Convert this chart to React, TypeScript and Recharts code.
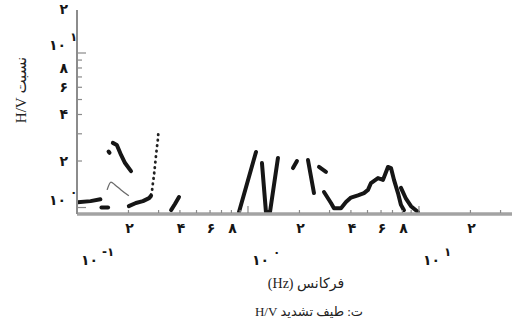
import React from 'react';
import { LineChart, Line, XAxis, YAxis } from 'recharts';

type Pt = { f: number; hv: number };

// Frequency axis (Hz, log) and H/V ratio axis (log)
const freqTicks = [0.1, 0.2, 0.3, 0.4, 0.5, 0.6, 0.7, 0.8, 0.9, 1, 2, 3, 4, 5, 6, 7, 8, 9, 10, 20, 30];
const freqDigitLabels: Record<string, string> = {
  '0.2': '۲', '0.4': '۴', '0.6': '۶', '0.8': '۸',
  '2': '۲', '4': '۴', '6': '۶', '8': '۸', '20': '۲',
};
const freqDecadeExp: Record<string, string> = { '0.1': '-۱', '1': '۰', '10': '۱' };

const ratioTicks = [1, 2, 3, 4, 5, 6, 7, 8, 9, 10, 20];
const ratioDigitLabels: Record<string, string> = { '2': '۲', '4': '۴', '6': '۶', '8': '۸', '20': '۲' };
const ratioDecadeExp: Record<string, string> = { '1': '۰', '10': '۱' };

const freqDomain: [number, number] = [0.1, 35];
const ratioDomain: [number, number] = [0.908, 18.98];

// Main H/V curve, split where the record has gaps
const lowBase: Pt[] = [{ f: 0.101, hv: 1.08 }, { f: 0.12, hv: 1.1 }, { f: 0.137, hv: 1.13 }];
const lowStep: Pt[] = [{ f: 0.139, hv: 1.0 }, { f: 0.152, hv: 1.0 }];
const lowDot: Pt[] = [{ f: 0.153, hv: 2.3 }, { f: 0.155, hv: 2.26 }];
const lowPeak: Pt[] = [
  { f: 0.162, hv: 2.62 }, { f: 0.171, hv: 2.54 }, { f: 0.181, hv: 2.19 },
  { f: 0.191, hv: 1.94 }, { f: 0.207, hv: 1.72 },
];
const lowRise: Pt[] = [
  { f: 0.201, hv: 1.02 }, { f: 0.221, hv: 1.07 }, { f: 0.243, hv: 1.1 },
  { f: 0.264, hv: 1.15 }, { f: 0.271, hv: 1.19 },
];
const midBlip: Pt[] = [{ f: 0.355, hv: 0.963 }, { f: 0.374, hv: 1.054 }, { f: 0.395, hv: 1.169 }];
const spikeA: Pt[] = [{ f: 0.886, hv: 0.935 }, { f: 1.114, hv: 2.29 }];
const spikeB: Pt[] = [{ f: 1.207, hv: 1.94 }, { f: 1.274, hv: 0.935 }, { f: 1.345, hv: 0.935 }, { f: 1.497, hv: 2.09 }];
const spikeC: Pt[] = [{ f: 1.833, hv: 1.8 }, { f: 1.934, hv: 2.0 }];
const spikeD: Pt[] = [{ f: 2.243, hv: 2.03 }, { f: 2.432, hv: 1.24 }];
const spikeE: Pt[] = [{ f: 2.602, hv: 1.83 }, { f: 2.858, hv: 1.7 }];
const highBand: Pt[] = [
  { f: 2.783, hv: 1.26 }, { f: 3.058, hv: 1.07 }, { f: 3.184, hv: 0.99 }, { f: 3.499, hv: 0.99 },
  { f: 3.742, hv: 1.085 }, { f: 4.003, hv: 1.16 }, { f: 4.398, hv: 1.2 }, { f: 4.769, hv: 1.24 },
  { f: 5.033, hv: 1.3 }, { f: 5.24, hv: 1.44 }, { f: 5.757, hv: 1.55 }, { f: 6.161, hv: 1.51 },
  { f: 6.588, hv: 1.83 }, { f: 6.861, hv: 1.8 }, { f: 7.143, hv: 1.51 }, { f: 7.538, hv: 1.24 },
  { f: 7.848, hv: 1.04 }, { f: 8.171, hv: 0.96 },
];
const highTail: Pt[] = [{ f: 7.848, hv: 1.34 }, { f: 8.395, hv: 1.14 }, { f: 8.98, hv: 1.02 }, { f: 9.867, hv: 0.935 }];

// Secondary curves
const thinCurve: Pt[] = [
  { f: 0.15, hv: 1.3 }, { f: 0.158, hv: 1.46 }, { f: 0.167, hv: 1.4 },
  { f: 0.181, hv: 1.3 }, { f: 0.201, hv: 1.19 },
];
const dottedCurve: Pt[] = [
  { f: 0.271, hv: 1.205 }, { f: 0.275, hv: 1.3 }, { f: 0.278, hv: 1.44 }, { f: 0.282, hv: 1.62 },
  { f: 0.286, hv: 1.88 }, { f: 0.29, hv: 2.19 }, { f: 0.294, hv: 2.5 }, { f: 0.298, hv: 2.82 },
  { f: 0.299, hv: 3.08 },
];

const mainSegments = [lowBase, lowStep, lowDot, lowPeak, lowRise, midBlip, spikeA, spikeB, spikeC, spikeD, spikeE, highBand, highTail];

const serif = "'Liberation Serif', 'DejaVu Sans', serif";
const digitFont = "'DejaVu Sans', sans-serif";
const frameColor = '#8c8c8c';
const tickColor = '#8a8a8a';
const inkColor = '#161616';

const isMajor = (v: number) => v === 0.1 || v === 1 || v === 10;

const FreqTickBottom = (props: any) => {
  const { x, y, payload } = props;
  const v: number = payload.value;
  const key = String(v);
  const inside = v > freqDomain[0] * 1.001 && v < freqDomain[1];
  return (
    <g>
      {inside && (
        <line x1={x} y1={y - 1} x2={x} y2={y - (isMajor(v) ? 8 : 4)} stroke={tickColor} strokeWidth={1.2} />
      )}
      {freqDigitLabels[key] && (
        <text x={x + 1} y={y + 19} textAnchor="middle" fontFamily={digitFont} fontWeight="bold" fontSize={14} fill={inkColor}>
          {freqDigitLabels[key]}
        </text>
      )}
      {freqDecadeExp[key] && (
        <text x={x + 4} y={y + 51} textAnchor="start" fontFamily={digitFont} fontWeight="bold" fontSize={14} fill={inkColor}>
          ۱۰
          <tspan dy={-9} dx={4} fontSize={12}>{freqDecadeExp[key]}</tspan>
        </text>
      )}
    </g>
  );
};

const FreqTickTop = (props: any) => {
  const { x, y, payload } = props;
  const v: number = payload.value;
  const inside = v > freqDomain[0] * 1.001 && v < freqDomain[1];
  if (!inside) return <g />;
  return <line x1={x} y1={y + 1} x2={x} y2={y + (isMajor(v) ? 8 : 4)} stroke={tickColor} strokeWidth={1.2} />;
};

const RatioTickLeft = (props: any) => {
  const { x, y, payload } = props;
  const v: number = payload.value;
  const key = String(v);
  const inside = v > ratioDomain[0] && v < ratioDomain[1];
  // the label above the frame sits a little lower so it stays on the page
  const labelY = inside ? y + 5 : y + 8;
  return (
    <g>
      {inside && (
        <line x1={x + 1} y1={y} x2={x + (isMajor(v) ? 9 : 5)} y2={y} stroke={tickColor} strokeWidth={1.2} />
      )}
      {ratioDigitLabels[key] && (
        <text x={x - 9} y={labelY} textAnchor="end" fontFamily={digitFont} fontWeight="bold" fontSize={14} fill={inkColor}>
          {ratioDigitLabels[key]}
        </text>
      )}
      {ratioDecadeExp[key] && (
        <text x={x - 28} y={y - 3} textAnchor="start" fontFamily={digitFont} fontWeight="bold" fontSize={14} fill={inkColor}>
          ۱۰
          <tspan dy={-9} dx={4} fontSize={12}>{ratioDecadeExp[key]}</tspan>
        </text>
      )}
    </g>
  );
};

const RatioTickRight = (props: any) => {
  const { x, y, payload } = props;
  const v: number = payload.value;
  const inside = v > ratioDomain[0] && v < ratioDomain[1];
  if (!inside) return <g />;
  return <line x1={x - 1} y1={y} x2={x - (isMajor(v) ? 9 : 5)} y2={y} stroke={tickColor} strokeWidth={1.2} />;
};

export default function App() {
  return (
    <div style={{ position: 'absolute', left: 0, top: 0, width: 516, height: 321, background: '#fff' }}>
      <LineChart width={516} height={321} margin={{ top: 10, right: 4, bottom: 47, left: 0 }}>
        <XAxis
          xAxisId="f"
          dataKey="f"
          type="number"
          scale="log"
          domain={freqDomain}
          allowDataOverflow
          ticks={freqTicks}
          interval={0}
          height={60}
          tickSize={0}
          tickMargin={0}
          tickLine={false}
          axisLine={{ stroke: '#a3a3a3', strokeWidth: 3.5 }}
          tick={<FreqTickBottom />}
        />
        <XAxis
          xAxisId="fTop"
          orientation="top"
          dataKey="f"
          type="number"
          scale="log"
          domain={freqDomain}
          allowDataOverflow
          ticks={freqTicks}
          interval={0}
          height={0}
          tickSize={0}
          tickMargin={0}
          tickLine={false}
          axisLine={{ stroke: frameColor, strokeWidth: 2 }}
          tick={<FreqTickTop />}
        />
        <YAxis
          yAxisId="r"
          dataKey="hv"
          type="number"
          scale="log"
          domain={ratioDomain}
          allowDataOverflow
          ticks={ratioTicks}
          interval={0}
          width={77}
          tickSize={0}
          tickMargin={0}
          tickLine={false}
          axisLine={{ stroke: frameColor, strokeWidth: 2 }}
          tick={<RatioTickLeft />}
        />
        <YAxis
          yAxisId="rRight"
          orientation="right"
          dataKey="hv"
          type="number"
          scale="log"
          domain={ratioDomain}
          allowDataOverflow
          ticks={ratioTicks}
          interval={0}
          width={0}
          tickSize={0}
          tickMargin={0}
          tickLine={false}
          axisLine={{ stroke: '#c8c8c8', strokeWidth: 1.5 }}
          tick={<RatioTickRight />}
        />
        <Line
          xAxisId="f"
          yAxisId="r"
          data={thinCurve}
          dataKey="hv"
          type="monotone"
          stroke="#6a6a6a"
          strokeWidth={1.3}
          dot={false}
          isAnimationActive={false}
        />
        <Line
          xAxisId="f"
          yAxisId="r"
          data={dottedCurve}
          dataKey="hv"
          type="linear"
          stroke="#222"
          strokeWidth={2.8}
          strokeDasharray="0.5 5"
          strokeLinecap="round"
          dot={false}
          isAnimationActive={false}
        />
        {mainSegments.map((seg, i) => (
          <Line
            key={i}
            xAxisId="f"
            yAxisId="r"
            data={seg}
            dataKey="hv"
            type="linear"
            stroke={inkColor}
            strokeWidth={4}
            strokeLinecap="round"
            strokeLinejoin="round"
            dot={false}
            isAnimationActive={false}
          />
        ))}
        <text
          x={21}
          y={90}
          transform="rotate(-90 21 90)"
          textAnchor="middle"
          dominantBaseline="central"
          direction="rtl"
          fontFamily={serif}
          fontSize={15}
          fill="#222"
        >
          نسبت H/V
        </text>
        <text x={306} y={288} textAnchor="middle" direction="rtl" fontFamily={serif} fontSize={14} fill="#222">
          فرکانس (Hz)
        </text>
        <text x={309} y={316} textAnchor="middle" direction="rtl" fontFamily={serif} fontSize={13} fill="#222">
          ت: طیف تشدید H/V
        </text>
      </LineChart>
    </div>
  );
}
